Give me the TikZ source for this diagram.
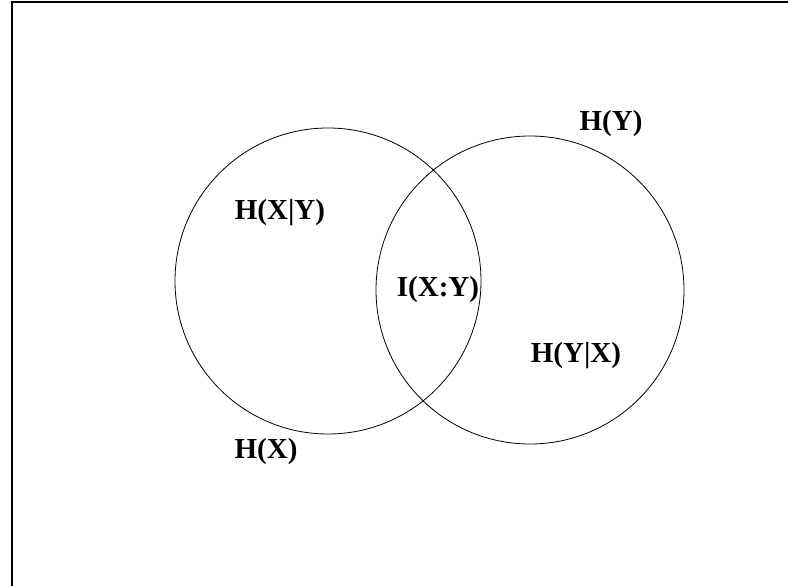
\documentclass[tikz,border=0pt]{standalone}
\usepackage{fontspec}
\setmainfont{Liberation Serif}
\begin{document}
\begin{tikzpicture}[x=1pt,y=-1pt,
  lbl/.style={font=\fontsize{29}{31}\selectfont\bfseries, inner sep=0pt},
  set/.style={draw, line width=0.8pt}]
\useasboundingbox (0,0) rectangle (788,586);
\coordinate (fa) at (790,2);
\coordinate (fb) at (12,2);
\coordinate (fc) at (12,588);
\draw[line width=1.5pt] (fa) -- (fb) -- (fc);
\node[set, circle, minimum size=306pt, inner sep=0pt] (X) at (328,281) {};
\node[set, circle, minimum size=308pt, inner sep=0pt] (Y) at (530,290) {};
\node[lbl] (hy) at (611,124) {H(Y)};
\node[lbl] (hxy) at (280,213) {H(X|Y)};
\node[lbl] (ixy) at (438,290) {I(X:Y)};
\node[lbl] (hyx) at (576,356) {H(Y|X)};
\node[lbl] (hx) at (266,452) {H(X)};
\end{tikzpicture}
\end{document}
